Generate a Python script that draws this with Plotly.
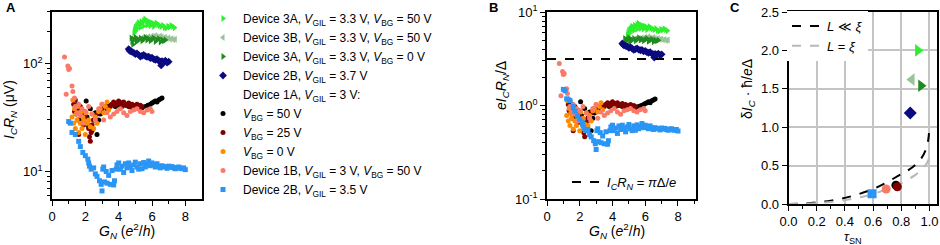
import plotly.graph_objects as go

FONT = "Liberation Sans"

# ---------------- Data (panel A: G_N in e^2/h, I_C R_N in uV) ----------------
G_3A50 = [4.92, 4.95, 5.0, 5.02, 5.08, 5.15, 5.2, 5.28, 5.35, 5.42, 5.5, 5.58, 5.65, 5.72, 5.8, 5.88,
          5.95, 6.05, 6.15, 6.25, 6.35, 6.45, 6.55, 6.65, 6.75, 6.85, 6.95, 7.05, 7.15, 7.25, 7.35,
          5.1, 5.3, 5.5, 5.7, 5.9, 6.1]
V_3A50 = [192, 205, 218, 200, 225, 232, 240, 228, 245, 238, 250, 258, 248, 240, 245, 232,
          240, 236, 230, 238, 228, 225, 220, 226, 215, 212, 222, 218, 225, 220, 214,
          212, 215, 222, 226, 224, 220]

G_3B50 = [5.4, 5.6, 5.8, 6.0, 6.1, 6.2, 6.3, 6.4, 6.5, 6.6, 6.7, 6.8, 6.9, 7.0, 7.1, 7.2, 7.3, 7.4]
V_3B50 = [172, 175, 178, 180, 176, 182, 178, 175, 180, 176, 172, 175, 170, 172, 168, 170, 166, 168]

G_3A0 = [4.75, 4.8, 4.85, 4.9, 5.0, 5.05, 5.1, 5.2, 5.3, 5.4, 5.5, 5.6, 5.7, 5.8, 5.9, 6.0,
         6.1, 6.2, 6.3, 6.4, 6.5, 6.6, 6.7, 6.8]
V_3A0 = [172, 160, 150, 168, 175, 158, 170, 165, 172, 162, 168, 175, 165, 170, 162, 168,
         172, 160, 165, 170, 158, 166, 162, 165]

G_2B37 = [4.6, 4.65, 4.7, 4.8, 4.9, 5.0, 5.1, 5.2, 5.3, 5.4, 5.5, 5.6, 5.7, 5.8, 5.9, 6.0,
          6.1, 6.2, 6.3, 6.4, 6.5, 6.55, 6.6, 6.7, 6.8, 6.9, 7.0]
V_2B37 = [136, 132, 130, 128, 126, 122, 124, 120, 116, 118, 120, 117, 115, 116, 112, 113,
          110, 108, 110, 106, 104, 96, 105, 103, 106, 102, 104]

G_1A50 = [1.45, 1.55, 1.65, 1.75, 1.85, 1.95, 2.05, 2.1, 2.2, 2.3, 2.4, 2.5, 2.6, 2.7, 2.8, 2.9,
          3.0, 3.2, 3.4, 3.6, 3.8, 4.0, 4.2, 4.4, 4.6, 4.8, 5.0, 5.2, 5.4, 5.6, 5.75, 5.9,
          6.0, 6.1, 6.2, 6.3, 6.4, 6.5, 6.6]
V_1A50 = [34, 42, 30, 38, 28, 36, 45, 32, 26, 38, 24, 30, 35, 22, 30, 34,
          38, 40, 41, 42, 40, 41, 43, 41, 40, 39, 38, 40, 39, 40, 41, 42,
          43, 44, 45, 44, 46, 47, 48]

G_1A25 = [1.3, 1.35, 1.4, 1.5, 1.55, 1.6, 1.7, 1.8, 1.9, 2.0, 2.1, 2.2, 2.25, 2.3, 2.35, 2.4,
          2.5, 2.7, 3.0, 3.3, 3.5, 3.6, 3.7, 3.8, 3.9, 4.0, 4.1, 4.2, 4.3, 4.4, 4.5, 4.6,
          4.7, 4.8, 4.9, 5.0, 5.1, 5.2, 5.3, 5.4]
V_1A25 = [42, 36, 46, 38, 30, 22, 40, 33, 27, 32, 28, 25, 21, 19, 23, 27,
          30, 34, 36, 38, 40, 42, 44, 41, 43, 45, 43, 40, 44, 42, 41, 43,
          40, 42, 41, 40, 42, 39, 41, 40]

G_1A0 = [1.2, 1.25, 1.3, 1.35, 1.4, 1.45, 1.5, 1.55, 1.6, 1.7, 1.75, 1.8, 1.85, 1.9, 2.0,
         2.05, 2.1, 2.2, 2.3, 2.4, 2.5, 2.6, 2.7, 2.8, 2.9, 3.0, 3.1, 3.2, 3.3, 3.4]
V_1A0 = [32, 46, 28, 38, 25, 34, 30, 40, 23, 28, 36, 25, 32, 30, 22,
         35, 28, 30, 26, 34, 25, 32, 28, 36, 38, 42, 35, 40, 44, 37]

G_1B50 = [0.75, 0.95, 1.0, 1.05, 0.85, 1.2, 1.25, 1.35, 1.4, 1.5, 1.6, 1.7, 1.8, 1.9, 2.0, 2.2,
          2.4, 2.6, 2.8, 3.0, 3.1, 3.3, 3.5, 3.7, 3.9, 4.1, 4.3, 4.5, 4.7, 4.9, 5.1, 5.3,
          5.5, 5.7, 5.9, 6.0]
V_1B50 = [115, 95, 88, 90, 52, 62, 55, 48, 40, 35, 42, 33, 38, 28, 36, 40,
          34, 30, 38, 42, 30, 35, 32, 34, 36, 38, 35, 33, 36, 37, 38, 36,
          35, 37, 38, 36]

G_2B35 = [1.0, 1.1, 1.2, 1.4, 1.6, 1.7, 1.85, 2.0, 2.15, 2.2, 2.25, 2.35, 2.5, 2.6, 2.7, 2.85,
          2.95, 3.0, 3.05, 3.1, 3.15, 3.25, 3.3, 3.4, 3.5, 3.6, 3.7, 3.75, 3.85, 3.9, 4.0,
          4.1, 4.2, 4.3, 4.4, 4.5, 4.6, 4.7, 4.8, 4.9, 5.0, 5.1, 5.2, 5.3, 5.4, 5.5, 5.6,
          5.7, 5.8, 5.9, 6.0, 6.1, 6.2, 6.3, 6.4, 6.5, 6.6, 6.7, 6.8, 6.9, 7.0, 7.1, 7.2,
          7.3, 7.4, 7.5, 7.6, 7.7, 7.8, 7.9, 8.0]
V_2B35 = [29, 28, 23, 22, 19, 17, 15, 14, 13, 12, 11.2, 10.5, 10.8, 9.5, 9, 8.2,
          7.6, 6.6, 10.5, 11, 8, 10, 7.8, 9.2, 7.6, 10.2, 7.5, 8.2, 10.5, 11.5, 12,
          10.5, 11.2, 9.8, 11.8, 10.8, 12, 11, 10.2, 11.5, 12.2, 11, 10.5, 11.8, 10.6, 12.1, 11,
          11.6, 12.5, 11.3, 12, 11.6, 11, 11.8, 11.2, 10.8, 11.3, 11, 11.1, 10.7, 11.2, 10.9, 11.1,
          10.8, 10.6, 10.9, 11, 10.7, 10.6, 10.8, 10.4]

# superconducting gap Delta/e (uV) per series, used for panel B (e I_C R_N / Delta)
DELTA_3A50 = 34.0
DELTA_3B50 = 33.5
DELTA_3A0 = 33.0
DELTA_2B37 = 29.5
DELTA_1A = 41.0
DELTA_1B = 41.0
DELTA_2B35 = 19.5

PI_LEVEL = 3.14159  # I_C R_N = pi Delta / e

# ---------------- Panel C data ----------------
TAU_PTS = [0.918, 0.875, 0.94, 0.864, 0.762, 0.772, 0.693, 0.593]
DIC_PTS = [2.0, 1.62, 1.54, 1.186, 0.245, 0.225, 0.195, 0.134]

TAU_CURVE = [0, 0.1, 0.2, 0.3, 0.4, 0.5, 0.6, 0.7, 0.8, 0.85, 0.9, 0.94, 0.97, 0.99, 1.0]
DIC_SHORT = [0, 0.005, 0.02, 0.043, 0.08, 0.13, 0.195, 0.285, 0.39, 0.44, 0.51, 0.59, 0.69, 0.82, 1.0]
DIC_EQUAL = [0, 0.003, 0.012, 0.027, 0.05, 0.085, 0.13, 0.195, 0.27, 0.32, 0.38, 0.44, 0.50, 0.56, 0.63]

# ---------------- Styles ----------------
def vg(v):
    return f"<i>V</i><sub>GIL</sub> = {v} V"

def vb(v):
    return f"<i>V</i><sub>BG</sub> = {v} V"

series = [
    (G_3A50, V_3A50, DELTA_3A50, f"Device 3A, {vg(3.3)}, {vb(50)}", "#2cf02c", "triangle-right", 6),
    (G_3B50, V_3B50, DELTA_3B50, f"Device 3B, {vg(3.3)}, {vb(50)}", "#98c498", "triangle-left", 6),
    (G_3A0, V_3A0, DELTA_3A0, f"Device 3A, {vg(3.3)}, {vb(0)}", "#1f8a1f", "triangle-right", 6),
    (G_2B37, V_2B37, DELTA_2B37, f"Device 2B, {vg(3.7)}", "#0b0b80", "diamond", 6),
    None,
    (G_1A50, V_1A50, DELTA_1A, vb(50), "#000000", "circle", 5),
    (G_1A25, V_1A25, DELTA_1A, vb(25), "#800000", "circle", 5),
    (G_1A0, V_1A0, DELTA_1A, vb(0), "#ff8c00", "circle", 5),
    (G_1B50, V_1B50, DELTA_1B, f"Device 1B, {vg(3)}, {vb(50)}", "#fa7a68", "circle", 5),
    (G_2B35, V_2B35, DELTA_2B35, f"Device 2B, {vg(3.5)}", "#2b95f5", "square", 5),
]
# panel-C point style order (matches TAU_PTS)
c_styles = [("#2cf02c", "triangle-right", 11), ("#98c498", "triangle-left", 11),
            ("#1f8a1f", "triangle-right", 11), ("#0b0b80", "diamond", 10),
            ("#000000", "circle", 9), ("#800000", "circle", 9),
            ("#fa7a68", "circle", 9), ("#2b95f5", "square", 9)]

fig = go.Figure()

for i, s in enumerate(series):
    if s is None:
        fig.add_trace(go.Scatter(x=[None], y=[None], mode="markers",
                                 marker=dict(color="rgba(0,0,0,0)", size=1),
                                 name=f"Device 1A, {vg(3)}:", legendgroup=f"g{i}",
                                 xaxis="x", yaxis="y", legend="legend"))
        continue
    gx, vy, d, name, col, sym, sz = s
    fig.add_trace(go.Scatter(x=gx, y=vy, mode="markers", name=name, legendgroup=f"g{i}",
                             marker=dict(color=col, symbol=sym, size=sz, line=dict(width=0)),
                             xaxis="x", yaxis="y", legend="legend"))
    fig.add_trace(go.Scatter(x=gx, y=[v / d for v in vy], mode="markers", showlegend=False,
                             marker=dict(color=col, symbol=sym, size=sz, line=dict(width=0)),
                             xaxis="x2", yaxis="y2"))

# panel B dashed line legend entry
fig.add_trace(go.Scatter(x=[None], y=[None], mode="lines",
                         line=dict(color="black", width=2, dash="dash"),
                         name="<i>I</i><sub><i>C</i></sub><i>R</i><sub><i>N</i></sub> = <i>π</i>Δ/<i>e</i>",
                         xaxis="x2", yaxis="y2", legend="legend2"))
fig.add_shape(type="line", xref="x2 domain", yref="y2", x0=0, x1=1, y0=PI_LEVEL, y1=PI_LEVEL,
              line=dict(color="black", width=2, dash="dash"))

# panel C curves
fig.add_trace(go.Scatter(x=TAU_CURVE, y=DIC_SHORT, mode="lines", line_shape="spline",
                         line=dict(color="black", width=2, dash="dash"),
                         name="<i>L</i> ≪ <i>ξ</i>", xaxis="x3", yaxis="y3", legend="legend3"))
fig.add_trace(go.Scatter(x=TAU_CURVE, y=DIC_EQUAL, mode="lines", line_shape="spline",
                         line=dict(color="#b8b8b8", width=2, dash="dash"),
                         name="<i>L</i> = <i>ξ</i>", xaxis="x3", yaxis="y3", legend="legend3"))
for t, d, (col, sym, sz) in zip(TAU_PTS, DIC_PTS, c_styles):
    fig.add_trace(go.Scatter(x=[t], y=[d], mode="markers", showlegend=False,
                             marker=dict(color=col, symbol=sym, size=sz, line=dict(width=0)),
                             xaxis="x3", yaxis="y3"))

W, H = 940, 245
def fx(p):
    return p / W
def fy(p):
    return 1 - p / H

axis_common = dict(showline=True, linecolor="black", linewidth=1.6, mirror=True,
                   ticks="outside", ticklen=5, tickwidth=1.3, tickcolor="black",
                   showgrid=False, zeroline=False, automargin=False,
                   tickfont=dict(family=FONT, size=13, color="black"))

minor_log_A = [6, 7, 8, 9, 20, 30, 40, 50, 60, 70, 80, 90, 200, 300]
minor_log_B = [0.2, 0.3, 0.4, 0.5, 0.6, 0.7, 0.8, 0.9, 2, 3, 4, 5, 6, 7, 8, 9]

fig.update_layout(
    width=W, height=H, margin=dict(l=0, r=0, t=0, b=0),
    paper_bgcolor="white", plot_bgcolor="white",
    font=dict(family=FONT, size=12, color="black"),
    xaxis=dict(domain=[fx(52), fx(202)], range=[0, 9], tickvals=[0, 2, 4, 6, 8], anchor="y",
               minor=dict(tickvals=[1, 3, 5, 7], ticks="outside", ticklen=3, tickcolor="black"),
               **axis_common),
    yaxis=dict(domain=[fy(199), fy(12)], type="log", range=[0.745, 2.477], anchor="x",
               tickvals=[10, 100], ticktext=["10<sup>1</sup>", "10<sup>2</sup>"],
               minor=dict(tickvals=minor_log_A, ticks="outside", ticklen=3, tickcolor="black"),
               **axis_common),
    xaxis2=dict(domain=[fx(547), fx(696)], range=[0, 9.1], tickvals=[0, 2, 4, 6, 8], anchor="y2",
                minor=dict(tickvals=[1, 3, 5, 7, 9], ticks="outside", ticklen=3, tickcolor="black"),
                **axis_common),
    yaxis2=dict(domain=[fy(199), fy(12)], type="log", range=[-1, 1], anchor="x2",
                tickvals=[0.1, 1, 10], ticktext=["10<sup>-1</sup>", "10<sup>0</sup>", "10<sup>1</sup>"],
                minor=dict(tickvals=minor_log_B, ticks="outside", ticklen=3, tickcolor="black"),
                **axis_common),
    xaxis3=dict(domain=[fx(788.5), fx(936.5)], range=[0, 1.05], tickvals=[0, 0.2, 0.4, 0.6, 0.8, 1.0],
                ticktext=["0.0", "0.2", "0.4", "0.6", "0.8", "1.0"], anchor="y3",
                minor=dict(tickvals=[0.1, 0.3, 0.5, 0.7, 0.9], ticks="outside", ticklen=3, tickcolor="black"),
                **{**axis_common, "showgrid": True}, gridcolor="#c4c4c4", gridwidth=1.5),
    yaxis3=dict(domain=[fy(204), fy(12)], range=[0, 2.5], tickvals=[0, 0.5, 1.0, 1.5, 2.0, 2.5],
                ticktext=["0.0", "0.5", "1.0", "1.5", "2.0", "2.5"], anchor="x3",
                **{**axis_common, "showgrid": True}, gridcolor="#c4c4c4", gridwidth=1.5),
    legend=dict(x=fx(203), y=fy(4), xanchor="left", yanchor="top", bgcolor="rgba(0,0,0,0)",
                font=dict(family=FONT, size=12), tracegroupgap=0, itemwidth=30),
    legend2=dict(x=fx(567), y=fy(182), xanchor="left", yanchor="middle", bgcolor="rgba(0,0,0,0)",
                 font=dict(family=FONT, size=13)),
    legend3=dict(x=fx(787), y=fy(11), xanchor="left", yanchor="top", bgcolor="white",
                 font=dict(family=FONT, size=13)),
)

ann = []
def A(text, x, y, size=13, angle=0, bold=False):
    if bold:
        text = f"<b>{text}</b>"
    ann.append(dict(text=text, x=fx(x), y=fy(y), xref="paper", yref="paper", showarrow=False,
                    xanchor="center", yanchor="middle", textangle=angle,
                    font=dict(family=FONT, size=size, color="black")))

A("A", 11, 8, 13, bold=True)
A("B", 493, 7, 13, bold=True)
A("C", 735, 7, 13, bold=True)
gtitle = "<i>G</i><sub><i>N</i></sub> (<i>e</i><sup>2</sup>/<i>h</i>)"
A(gtitle, 127, 231, 14)
A(gtitle, 617, 231, 14)
A("<i>τ</i><sub>SN</sub>", 853, 237, 13)
A("<i>I</i><sub><i>C</i></sub><i>R</i><sub><i>N</i></sub> (μV)", 10, 110, 14, angle=-90)
A("<i>eI</i><sub><i>C</i></sub><i>R</i><sub><i>N</i></sub>/Δ", 502, 86, 14, angle=-90)
A("δ<i>I</i><sub><i>C</i></sub> · ħ/<i>e</i>Δ", 748, 89, 14, angle=-90)
fig.update_layout(annotations=ann)

fig.write_html("out.html", config={"displayModeBar": False},
               post_script="document.body.style.margin='0';document.body.style.overflow='hidden';")
